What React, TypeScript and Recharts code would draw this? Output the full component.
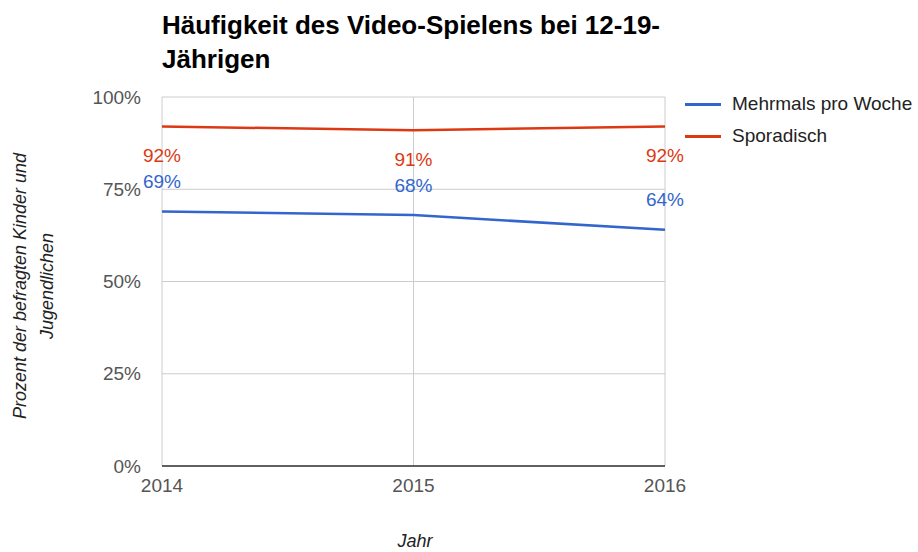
import React from "react";
import {
  LineChart,
  Line,
  XAxis,
  YAxis,
  CartesianGrid,
  LabelList,
} from "recharts";

const years = [2014, 2015, 2016];
const mehrmals = [69, 68, 64];
const sporadisch = [92, 91, 92];
const yTicks = [0, 25, 50, 75, 100];

const BLUE = "#3366cc";
const RED = "#dc3912";
const FONT = "'Liberation Sans', Arial, sans-serif";

const data = years.map((year, i) => ({
  year,
  mehrmals: mehrmals[i],
  sporadisch: sporadisch[i],
}));

const series = [
  { key: "mehrmals", name: "Mehrmals pro Woche", color: BLUE, shift: -30 },
  { key: "sporadisch", name: "Sporadisch", color: RED, shift: 29 },
];

function makeLabel(color: string, shift: number) {
  return (props: any) => {
    const { x, y, value } = props;
    return (
      <text
        x={x}
        y={y + shift}
        fill={color}
        fontSize={19}
        fontFamily={FONT}
        textAnchor="middle"
        dominantBaseline="central"
      >
        {value}%
      </text>
    );
  };
}

export default function App() {
  return (
    <div
      style={{
        position: "absolute",
        left: 0,
        top: 0,
        width: 918,
        height: 552,
        background: "#fff",
        fontFamily: FONT,
      }}
    >
      <LineChart
        width={918}
        height={552}
        data={data}
        margin={{ top: 97, right: 253, bottom: 56, left: 92 }}
      >
        <CartesianGrid stroke="#cccccc" verticalValues={years} />
        <XAxis
          dataKey="year"
          type="number"
          domain={[2014, 2016]}
          ticks={years}
          height={30}
          axisLine={{ stroke: "#333", strokeWidth: 1.5 }}
          tickLine={false}
          tick={{ fill: "#555", fontSize: 19, fontFamily: FONT }}
          tickMargin={7}
        />
        <YAxis
          type="number"
          domain={[0, 100]}
          ticks={yTicks}
          width={70}
          axisLine={false}
          tickLine={false}
          tickFormatter={(v: number) => `${v}%`}
          tick={{ fill: "#555", fontSize: 19, fontFamily: FONT }}
          tickMargin={15}
        />
        {series.map((s) => (
          <Line
            key={s.key}
            dataKey={s.key}
            name={s.name}
            stroke={s.color}
            strokeWidth={2.5}
            dot={false}
            activeDot={false}
            type="linear"
            isAnimationActive={false}
          >
            <LabelList dataKey={s.key} content={makeLabel(s.color, s.shift)} />
          </Line>
        ))}
      </LineChart>
      <div
        style={{
          position: "absolute",
          left: 685,
          top: 88,
          fontSize: 19,
          color: "#222",
        }}
      >
        {series.map((s) => (
          <div
            key={s.key}
            style={{ display: "flex", alignItems: "center", height: 32 }}
          >
            <div
              style={{
                width: 36,
                height: 3,
                background: s.color,
                marginRight: 11,
              }}
            />
            <span style={{ whiteSpace: "nowrap" }}>{s.name}</span>
          </div>
        ))}
      </div>
      <div
        style={{
          position: "absolute",
          left: 162,
          top: 8,
          fontSize: 26,
          fontWeight: "bold",
          lineHeight: "34px",
          color: "#000",
          width: 560,
        }}
      >
        Häufigkeit des Video-Spielens bei 12-19-
        <br />
        Jährigen
      </div>
      <div
        style={{
          position: "absolute",
          left: 34,
          top: 286,
          transform: "translate(-50%, -50%) rotate(-90deg)",
          fontSize: 18,
          fontStyle: "italic",
          color: "#222",
          textAlign: "center",
          lineHeight: "27px",
          whiteSpace: "nowrap",
        }}
      >
        Prozent der befragten Kinder und
        <br />
        Jugendlichen
      </div>
      <div
        style={{
          position: "absolute",
          left: 415,
          top: 541,
          transform: "translate(-50%, -50%)",
          fontSize: 18,
          fontStyle: "italic",
          color: "#222",
        }}
      >
        Jahr
      </div>
    </div>
  );
}
